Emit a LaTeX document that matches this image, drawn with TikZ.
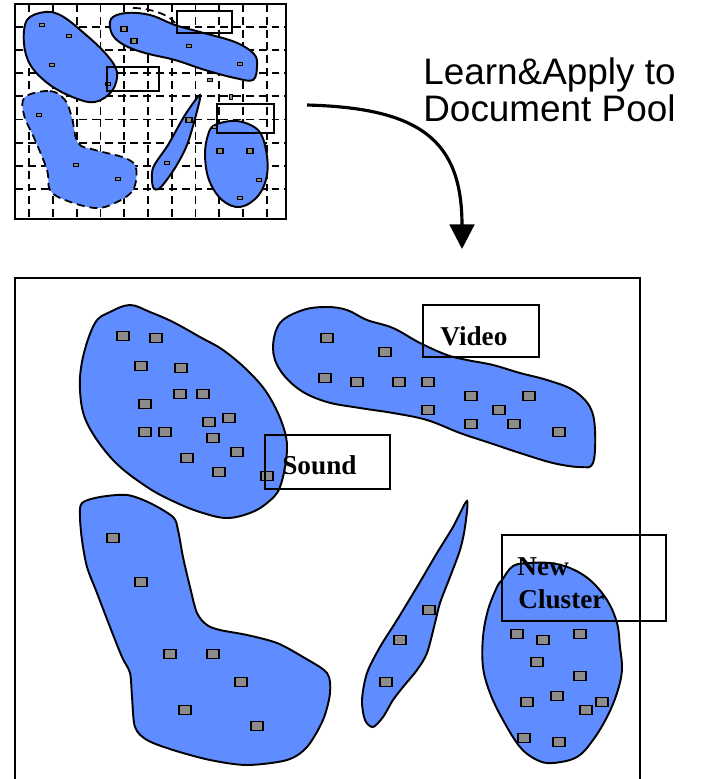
\documentclass[tikz,border=0pt]{standalone}
\usepackage{fontspec}
\setmainfont{Liberation Serif}
\newfontfamily\arialfont{Liberation Sans}
\usetikzlibrary{arrows.meta}
\definecolor{blobblue}{RGB}{95,140,255}
\definecolor{docgray}{RGB}{140,140,140}
\tikzset{
  blob/.style={draw, line width=1.1pt, fill=blobblue},
  doc/.style={draw, line width=1pt, fill=docgray, minimum width=0.23cm, minimum height=0.18cm, inner sep=0pt},
  sdoc/.style={draw, line width=0.6pt, fill=docgray, minimum width=0.11cm, minimum height=0.07cm, inner sep=0pt},
  tag/.style={draw, line width=0.8pt},
  taglabel/.style={anchor=base west, inner sep=0pt, font=\fontsize{15.5}{16}\selectfont\bfseries},
  grid/.style={line width=1pt, dash pattern=on 4.5pt off 2.8pt},
  flow/.style={line width=1.8pt, -{Triangle[length=14pt,width=14pt]}}
}
\begin{document}
\begin{tikzpicture}[x=0.02cm, y=-0.02cm]
  \useasboundingbox (0,0) rectangle (701,779);
  % small sample picture
  \foreach \i in {0,...,10} \draw[grid] (29.3+23.74*\i,4) -- (29.3+23.74*\i,219); % vertical grid
  \foreach \j in {0,...,7} \draw[grid] (15,26.7+23.2*\j) -- (286,26.7+23.2*\j); % horizontal grid
  \draw[line width=1pt] (15,4) rectangle (286,219); % frame
  \draw[blob] plot[smooth cycle, tension=0.6] coordinates {(27,20) (45,12) (62,16) (85,34) (106,54) (117,72) (112,91) (95,102) (75,98) (50,85) (31,66) (24,44)};
  \draw[blob] plot[smooth cycle, tension=0.6] coordinates {(111,19) (126,13) (150,15) (175,25) (200,32) (235,42) (254,54) (257,66) (253,80) (235,78) (205,70) (175,60) (145,53) (124,45) (112,34)};
  \draw[grid] (133,8) .. controls (150,8) and (170,15) .. (175,23); % dashed arc
  \fill[blobblue] plot[smooth cycle, tension=0.6] coordinates {(25,97) (50,91) (65,100) (72,118) (78,143) (95,150) (125,158) (136,168) (133,190) (115,203) (95,208) (65,200) (50,190) (47,170) (35,140) (24,115)};
  \draw[grid] plot[smooth cycle, tension=0.6] coordinates {(25,97) (50,91) (65,100) (72,118) (78,143) (95,150) (125,158) (136,168) (133,190) (115,203) (95,208) (65,200) (50,190) (47,170) (35,140) (24,115)};
  \draw[blob] plot[smooth cycle, tension=0.5] coordinates {(200,95) (196,115) (187,145) (175,168) (160,188) (153,187) (153,168) (168,145) (185,115)};
  \draw[blob] plot[smooth cycle, tension=0.6] coordinates {(215,125) (237,121) (258,130) (266,150) (267,175) (258,196) (240,207) (222,200) (209,180) (205,155) (208,135)};
  \foreach \p [count=\i] in {{42,25},{69,36},{52,65},{108,84},{189,46},{240,64},{210,80},{39,115},{76,165},{118,179},{167,163},{259,180},{240,198},{215,127}}
    \node[sdoc] (s\i) at (\p) {};
  \foreach \p [count=\i] in {{124,29},{134,41},{189,120},{220,151},{250,151}}
    \node[sdoc, minimum width=0.12cm, minimum height=0.11cm] (t\i) at (\p) {};
  \node[sdoc, minimum width=0.07cm, minimum height=0.11cm] (u1) at (231,97) {};
  \draw[tag] (177,11) rectangle (232,33); % small tags
  \draw[tag] (107,67) rectangle (159,91);
  \draw[tag] (217,104) rectangle (274,133);
  % caption and arrow
  \node[anchor=base west, inner sep=0pt, align=left, font=\arialfont\fontsize{21}{21}\selectfont] (learn) at (423,121) {Learn\&Apply to\\Document Pool};
  \coordinate (src) at (307,105);
  \coordinate (dst) at (462,249);
  \draw[flow] (src) .. controls (420,108) and (462,140) .. (dst);
  % document pool
  \draw[line width=0.8pt] (15,779) -- (15,278) -- (640,278) -- (640,779); % pool frame
  \draw[blob] plot[smooth cycle, tension=0.6] coordinates {(95,323) (110,312) (130,305) (150,312) (173,322) (200,337) (223,350) (247,370) (267,393) (282,423) (287,450) (280,487) (267,503) (250,513) (227,518) (203,513) (177,503) (147,487) (113,460) (87,423) (80,390) (83,357)};
  \draw[blob] plot[smooth cycle, tension=0.6] coordinates {(273,348) (280,323) (303,310) (327,307) (347,310) (367,320) (393,328) (420,343) (447,355) (467,360) (493,365) (520,373) (547,380) (573,390) (590,407) (595,430) (593,463) (580,467) (553,463) (520,453) (490,443) (460,433) (427,420) (393,413) (360,408) (327,402) (300,390) (280,370)};
  \draw[blob] plot[smooth cycle, tension=0.5] coordinates {(82,503) (100,497) (127,495) (150,503) (173,517) (178,530) (183,557) (190,587) (197,613) (207,625) (220,630) (247,635) (277,643) (303,657) (327,673) (330,693) (323,720) (307,747) (287,760) (247,765) (210,760) (173,750) (147,740) (135,727) (132,697) (130,673) (122,657) (110,627) (97,593) (87,567) (82,540) (80,517)};
  \draw[blob] plot[smooth cycle, tension=0.5] coordinates {(467,501) (465,527) (460,550) (450,577) (440,603) (435,623) (427,653) (417,670) (403,687) (393,700) (383,717) (373,727) (365,720) (362,700) (367,673) (380,647) (397,620) (417,587) (437,553) (453,527)};
  \draw[blob] plot[smooth cycle, tension=0.6] coordinates {(502,580) (513,566) (530,563) (550,563) (570,568) (590,580) (607,600) (617,623) (620,647) (622,670) (617,693) (607,717) (593,740) (577,757) (553,763) (537,760) (520,747) (503,720) (490,693) (483,667) (483,637) (488,610) (497,587)};
  \foreach \p [count=\i] in {{123,336},{156,338},{141,366},{181,368},{180,394},{203,394},{145,404},{209,422},{229,418},{145,432},{165,432},{213,438},{237,452},{187,458},{219,472},{267,476}}
    \node[doc] (a\i) at (\p) {};
  \foreach \p [count=\i] in {{327,338},{385,352},{325,378},{357,382},{399,382},{428,382},{471,396},{529,396},{428,410},{499,410},{471,424},{514,424},{559,432}}
    \node[doc] (b\i) at (\p) {};
  \foreach \p [count=\i] in {{113,538},{141,582},{170,654},{213,654},{241,682},{185,710},{257,726}}
    \node[doc] (c\i) at (\p) {};
  \foreach \p [count=\i] in {{429,610},{400,640},{386,682}}
    \node[doc] (d\i) at (\p) {};
  \foreach \p [count=\i] in {{517,634},{543,640},{580,634},{537,662},{580,676},{527,702},{557,696},{586,710},{602,702},{524,738},{559,742}}
    \node[doc] (e\i) at (\p) {};
  \draw[tag] (265,435) rectangle (390,489); % label boxes
  \draw[tag] (423,305) rectangle (539,357);
  \draw[tag] (502,535) rectangle (666,621);
  \node[taglabel] (sound) at (282,474) {Sound};
  \node[taglabel] (video) at (440,345) {Video};
  \node[taglabel] (new) at (517,575) {New};
  \node[taglabel] (cluster) at (518,608) {Cluster};
\end{tikzpicture}
\end{document}
